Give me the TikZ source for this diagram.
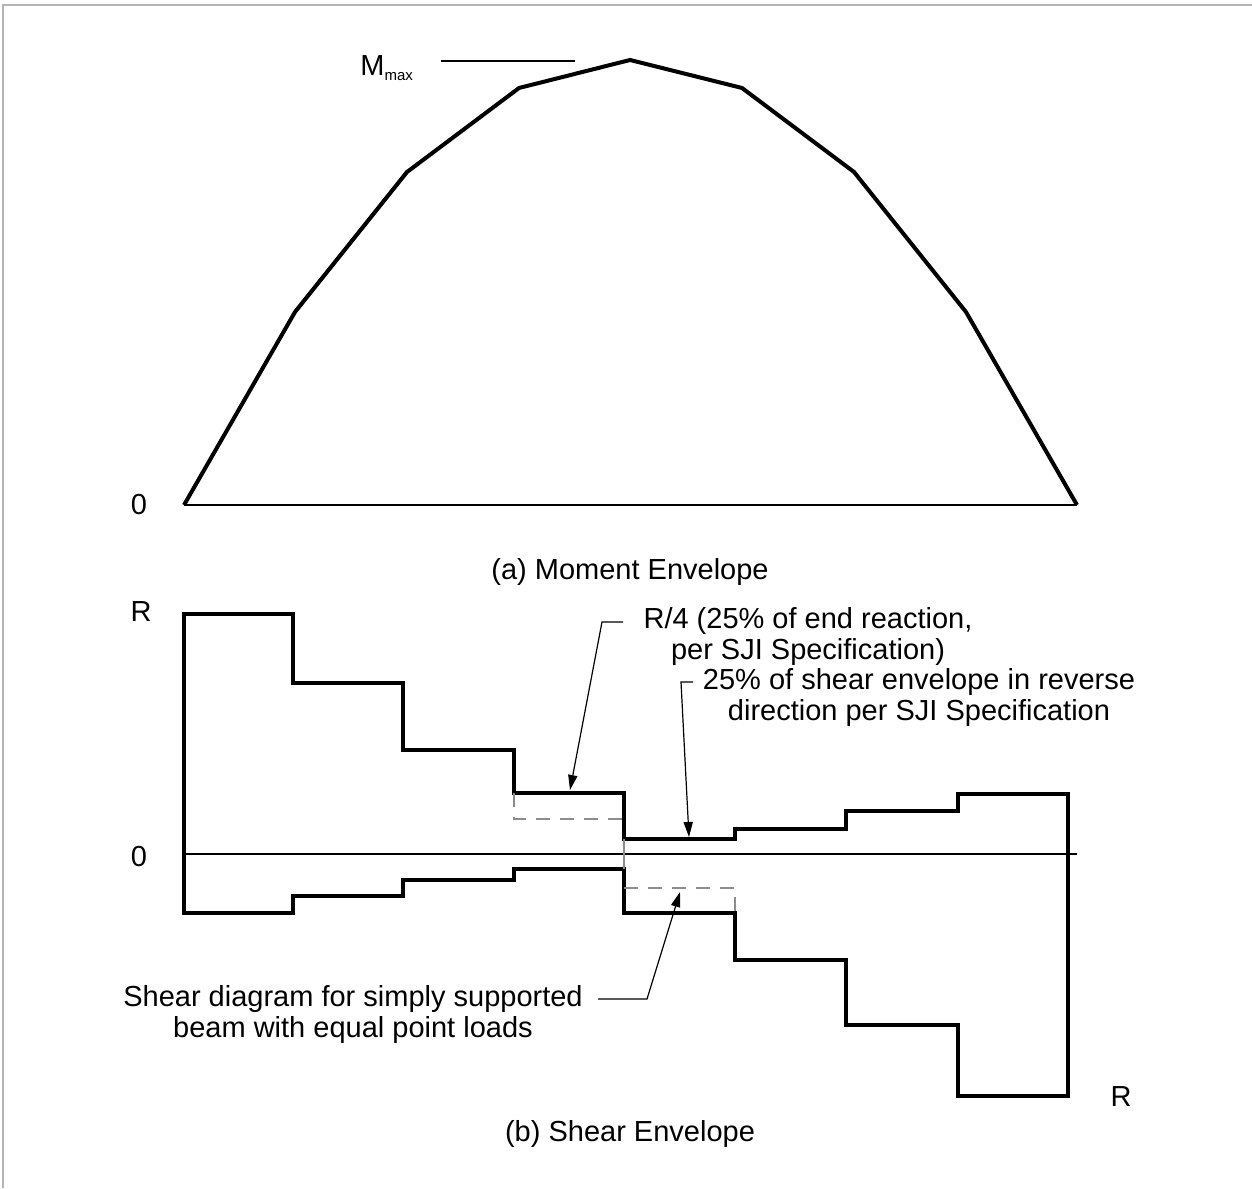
\documentclass[tikz,border=0pt]{standalone}
\usepackage{fontspec}
\setmainfont{Liberation Sans}
\usetikzlibrary{arrows.meta, positioning, calc}
\definecolor{framegray}{HTML}{B4B4B4}
\definecolor{guidegray}{HTML}{8C8C8C}
\tikzset{
  envline/.style={line width=2pt, draw=black, line join=miter},
  axisline/.style={line width=0.75pt, draw=black},
  guideline/.style={line width=0.75pt, draw=guidegray, dash pattern=on 7pt off 5pt},
  leader/.style={-{Triangle[length=7.5pt,width=4.6pt]}, line width=0.6pt, draw=black},
  lbl/.style={font=\fontsize{14.5}{15.5}\selectfont, inner sep=0pt, align=center},
}
\begin{document}
\begin{tikzpicture}[x=0.5pt, y=-0.5pt]
\useasboundingbox (0,0) rectangle (1252,1188);

% ---- page frame ----
\draw[framegray, line width=1pt] (3,1188) -- (3,5) -- (1252,5);

% ---- (a) moment envelope ----
\draw[axisline] (184,505) -- (1077,505);
\draw[envline] (184,505) -- (295,312) -- (407,172) -- (519,88) -- (630,60)
   -- (742,88) -- (854,172) -- (966,312) -- (1077,505);
\node[lbl] (zeroA) at (139,505) {0};
\node[lbl, anchor=west] (mmax) at (360,68)
   {M{\fontsize{7.5}{8}\selectfont\raisebox{-0.6ex}{max}}};
\coordinate (mlineL) at (441,61);
\coordinate (mlineR) at (575,61);
\draw[axisline] (mlineL) -- (mlineR);
\node[lbl] (capA) at (630,572) {(a) Moment Envelope};

% ---- (b) shear envelope ----
\draw[axisline] (184,854) -- (1077,854);
\draw[envline] (184,614) -- (293,614) -- (293,683) -- (403,683) -- (403,750)
   -- (514,750) -- (514,793) -- (624,793) -- (624,839) -- (735,839)
   -- (735,829) -- (846,829) -- (846,811) -- (958,811) -- (958,794)
   -- (1068,794) -- (1068,1096) -- (958,1096) -- (958,1025) -- (846,1025)
   -- (846,960) -- (735,960) -- (735,913) -- (624,913) -- (624,869)
   -- (514,869) -- (514,880) -- (403,880) -- (403,896) -- (293,896)
   -- (293,913) -- (184,913) -- cycle;

% reversed 25% steps (dashed) and centre line
\draw[guideline] (514,793) -- (514,819) -- (624,819);
\draw[guideline] (624,888) -- (735,888) -- (735,913);
\draw[line width=0.75pt, draw=guidegray] (624,839) -- (624,869);

\node[lbl] (zeroB) at (139,857) {0};
\node[lbl] (rTop) at (141,612) {R};
\node[lbl] (rBot) at (1121,1097) {R};

% ---- notes ----
\node[lbl] (noteQuarter) at (808,636) {R/4 (25\% of end reaction,\\per SJI Specification)};
\coordinate (kneeQuarter) at (602,622);
\coordinate (tipQuarter) at (570,790);
\draw[leader] (623,622) -- (kneeQuarter) -- (tipQuarter);

\node[lbl] (noteReverse) at (919,697) {25\% of shear envelope in reverse\\direction per SJI Specification};
\coordinate (kneeReverse) at (681,682);
\coordinate (tipReverse) at (689,837);
\draw[leader] (693,682) -- (kneeReverse) -- (tipReverse);

\node[lbl] (noteShear) at (353,1014) {Shear diagram for simply supported\\beam with equal point loads};
\coordinate (kneeShear) at (647,999);
\coordinate (tipShear) at (680,892);
\draw[leader] (598,999) -- (kneeShear) -- (tipShear);

\node[lbl] (capB) at (630,1134) {(b) Shear Envelope};

\end{tikzpicture}
\end{document}
